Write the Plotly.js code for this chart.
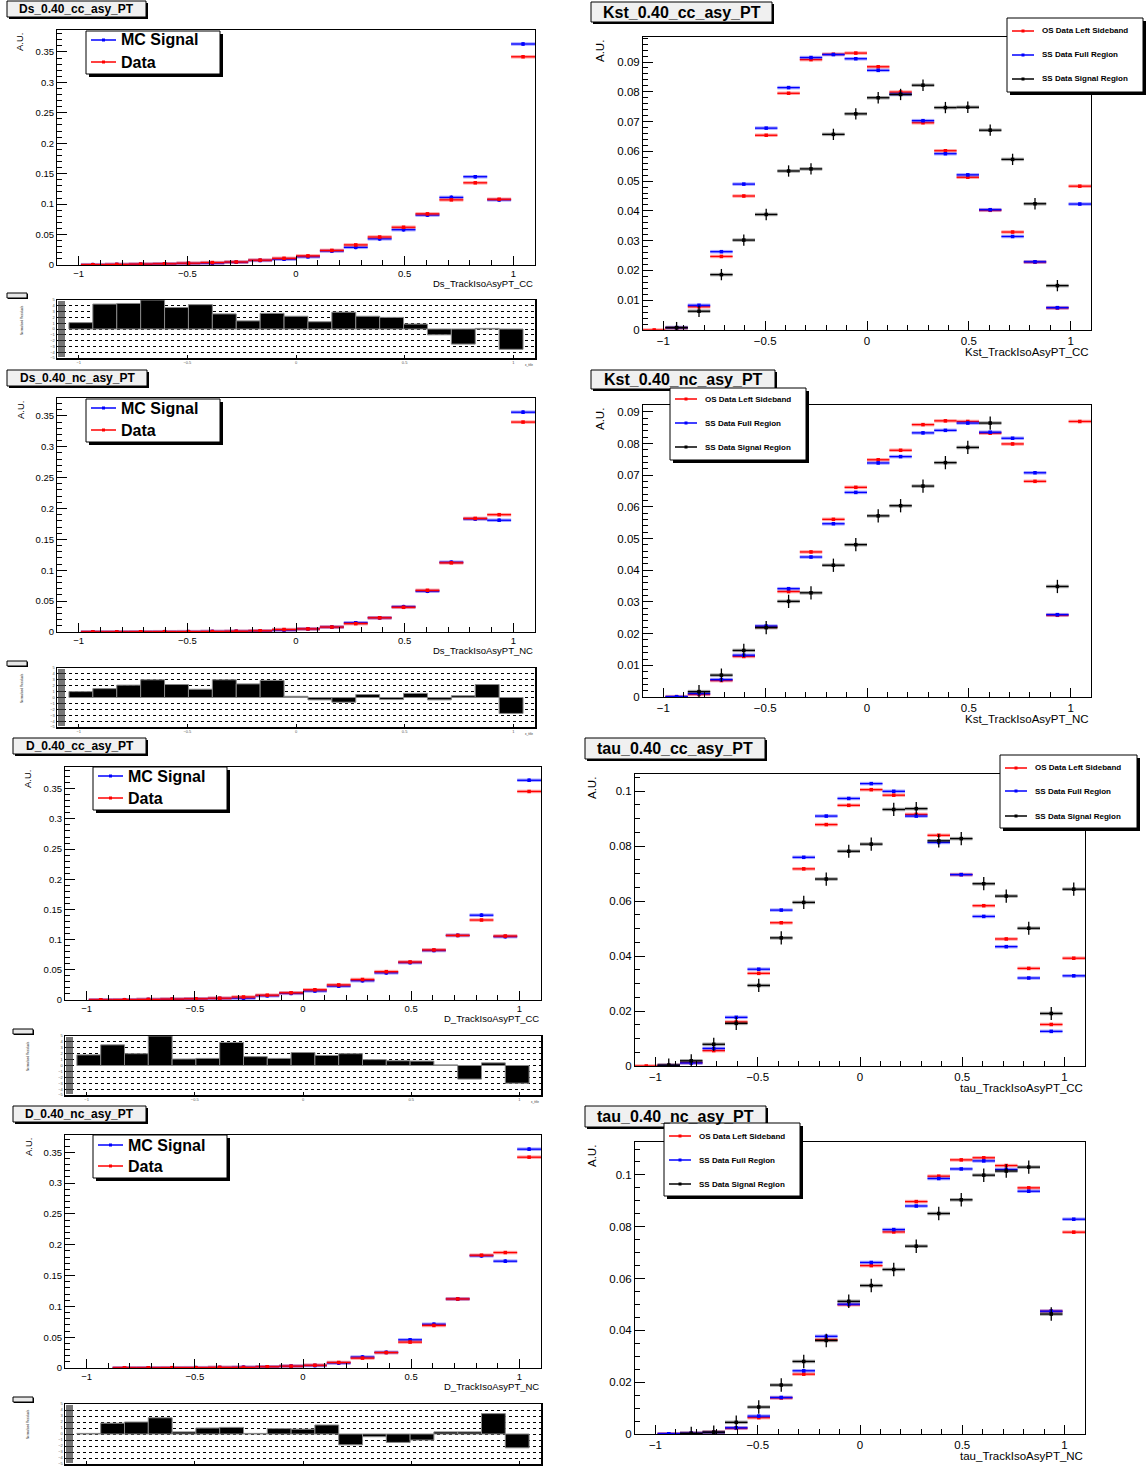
<!DOCTYPE html>
<html><head><meta charset="utf-8">
<script src="https://cdn.plot.ly/plotly-3.0.1.min.js"></script>
<style>html,body{margin:0;padding:0;background:#fff}#c{width:1147px;height:1468px}</style>
</head><body><div id="c"></div>
<script>
// ---------- DATA ----------
const binCenters = [-1.045,-0.935,-0.825,-0.715,-0.605,-0.495,-0.385,-0.275,-0.165,-0.055,0.055,0.165,0.275,0.385,0.495,0.605,0.715,0.825,0.935,1.045];
const ratioCenters = [-0.99,-0.88,-0.77,-0.66,-0.55,-0.44,-0.33,-0.22,-0.11,0,0.11,0.22,0.33,0.44,0.55,0.66,0.77,0.88,0.99];

const dsCC_mc   = [null,0.0005,0.0008,0.0012,0.0018,0.0025,0.003,0.0045,0.0075,0.0095,0.0135,0.023,0.029,0.043,0.058,0.082,0.111,0.145,0.107,0.363];
const dsCC_data = [null,0.0005,0.001,0.0015,0.002,0.003,0.004,0.005,0.008,0.011,0.015,0.024,0.033,0.046,0.062,0.084,0.107,0.135,0.108,0.342];
const dsCC_ratio = [1.1,4.3,4.4,5.0,3.7,4.2,2.6,1.4,2.7,2.2,1.25,2.9,2.2,2.0,0.85,-1.0,-2.6,0.1,-3.5];

const dsNC_mc   = [null,0.0002,0.0002,0.0003,0.0004,0.0005,0.0008,0.001,0.0015,0.003,0.005,0.008,0.015,0.023,0.041,0.066,0.113,0.183,0.181,0.356];
const dsNC_data = [null,0.0003,0.0003,0.0004,0.0005,0.0006,0.0008,0.0012,0.002,0.004,0.005,0.008,0.0135,0.023,0.040,0.0675,0.112,0.184,0.190,0.340];
const dsNC_ratio = [1.0,1.5,2.1,3.0,2.2,1.4,3.0,2.3,2.9,0.2,-0.4,-0.8,0.5,-0.35,0.7,-0.4,0.3,2.2,-2.7];

const dCC_mc   = [null,0.0003,0.0004,0.0008,0.0012,0.0018,0.0025,0.003,0.007,0.011,0.015,0.023,0.032,0.045,0.062,0.082,0.107,0.1405,0.105,0.364];
const dCC_data = [null,0.0003,0.0005,0.001,0.0015,0.002,0.003,0.005,0.008,0.012,0.017,0.025,0.034,0.047,0.063,0.083,0.107,0.1325,0.106,0.3455];
const dCC_ratio = [1.8,3.5,2.0,5.0,1.1,1.2,3.9,1.5,1.2,2.2,1.7,2.0,1.0,0.8,0.75,0.1,-2.3,0.45,-3.0];

const dNC_mc   = [null,null,0.0002,0.0003,0.0004,0.0005,0.0008,0.0012,0.002,0.003,0.004,0.008,0.0178,0.0253,0.0457,0.071,0.112,0.182,0.1733,0.355];
const dNC_data = [null,null,0.0003,0.0003,0.0005,0.0005,0.001,0.001,0.002,0.003,0.0045,0.009,0.016,0.025,0.042,0.069,0.112,0.183,0.1873,0.342];
const dNC_ratio = [0.1,1.8,2.0,2.7,0.35,1.0,1.1,0.1,0.9,0.8,1.5,-1.8,-0.45,-1.4,-1.0,0.35,0.35,3.4,-2.3];

const kstCC_os     = [0,0.0007,0.0078,0.0247,0.045,0.0654,0.0795,0.0908,0.0926,0.093,0.0884,0.0799,0.0696,0.0602,0.0513,0.0402,0.0329,0.0228,0.0074,0.0483];
const kstCC_ssFull = [null,0.0008,0.0083,0.0263,0.049,0.0678,0.0814,0.0915,0.0925,0.0911,0.0872,0.0792,0.0703,0.0592,0.0521,0.0404,0.0314,0.0229,0.0075,0.0423];
const kstCC_ssSig  = [null,0.0008,0.0063,0.0186,0.0302,0.0388,0.0534,0.0541,0.0657,0.0726,0.078,0.0791,0.0822,0.0747,0.0748,0.0671,0.0573,0.0424,0.0149,null];

const kstNC_os     = [null,0.0001,0.0008,0.0052,0.0128,0.0221,0.0333,0.0458,0.0561,0.0662,0.0749,0.0779,0.086,0.0872,0.087,0.0833,0.0799,0.0681,0.0258,0.087];
const kstNC_ssFull = [null,0.0001,0.0011,0.0055,0.0132,0.0224,0.0342,0.0442,0.0547,0.0646,0.0739,0.0759,0.0834,0.0842,0.0865,0.0836,0.0817,0.0708,0.026,null];
const kstNC_ssSig  = [null,null,0.0017,0.0069,0.0147,0.0219,0.0302,0.0329,0.0416,0.0481,0.0572,0.0604,0.0666,0.074,0.0788,0.0865,null,null,0.0349,null];

const tauCC_os     = [0,0.0002,0.0012,0.0056,0.016,0.0337,0.0521,0.0717,0.0878,0.0948,0.1005,0.0985,0.0915,0.0839,0.0696,0.0583,0.0462,0.0355,0.0151,0.0392];
const tauCC_ssFull = [null,0.0002,0.0011,0.0064,0.0177,0.0352,0.0567,0.0759,0.0909,0.0973,0.1027,0.0999,0.0909,0.0813,0.0696,0.0544,0.0434,0.032,0.0126,0.0328];
const tauCC_ssSig  = [null,0.0003,0.0019,0.0079,0.0155,0.0293,0.0466,0.0595,0.068,0.0781,0.0807,0.0933,0.0936,0.0819,0.0827,0.0663,0.0618,0.0501,0.0191,0.0643];

const tauNC_os     = [null,0.0001,0.0003,0.0007,0.0022,0.0063,0.0139,0.0231,0.0364,0.0499,0.065,0.078,0.0897,0.0995,0.1058,0.1066,0.1036,0.095,0.0474,0.0779];
const tauNC_ssFull = [null,0.0001,0.0003,0.0006,0.0024,0.0069,0.0141,0.0244,0.0377,0.0501,0.0662,0.0789,0.088,0.0986,0.1023,0.1054,0.1021,0.0937,0.0474,0.0829];
const tauNC_ssSig  = [null,null,0.0002,0.0007,0.0045,0.0104,0.0189,0.028,0.0361,0.0512,0.0573,0.0635,0.0725,0.0851,0.0904,0.0999,0.1015,0.103,0.0463,null];

const xTickVals = [-1,-0.5,0,0.5,1];

// ---------- LAYOUT HELPERS ----------
const W = 1147, H = 1468;
const X = p => p / W;
const Y = p => 1 - p / H;
const FONT = 'Liberation Sans, Arial, sans-serif';
const RED = '#ff0000', BLUE = '#0000ff', BLACK = '#000000';
const RED_B = 'rgba(255,0,0,0.35)', BLUE_B = 'rgba(0,0,255,0.35)', BLACK_B = 'rgba(0,0,0,0.35)';

const layout = {
  width: W, height: H, margin: {l:0, r:0, t:0, b:0},
  paper_bgcolor: '#ffffff', plot_bgcolor: '#ffffff', showlegend: false,
  shapes: [], annotations: []
};
const traces = [];
const ax = (i, c) => (i === 1 ? c : c + i);

function mainPanel(p) {
  layout[ax(p.id,'xaxis')] = {
    domain: [X(p.x0), X(p.x1)], anchor: ax(p.id,'y'), range: [-1.1, 1.1],
    tickvals: xTickVals, ticks: 'inside', ticklen: 9, tickcolor: '#000', tickwidth: 1,
    minor: {dtick: 0.1, tick0: 0, ticks: 'inside', ticklen: 5, tickcolor: '#000'},
    showline: true, mirror: true, linecolor: '#000', linewidth: 1,
    showgrid: false, zeroline: false,
    tickfont: {family: FONT, size: p.font, color: '#000'}
  };
  layout[ax(p.id,'yaxis')] = {
    domain: [Y(p.y1), Y(p.y0)], anchor: ax(p.id,'x'), range: [0, p.ymax],
    dtick: p.dtick, tick0: 0, ticks: 'inside', ticklen: 10, tickcolor: '#000',
    minor: {dtick: p.minor, tick0: 0, ticks: 'inside', ticklen: 5, tickcolor: '#000'},
    showline: true, mirror: true, linecolor: '#000', linewidth: 1,
    showgrid: false, zeroline: false,
    tickfont: {family: FONT, size: p.font, color: '#000'}
  };
  // x title
  layout.annotations.push({xref:'paper', yref:'paper', x: X(p.x1), y: Y(p.y1 + p.xtOff),
    xanchor:'right', yanchor:'top', showarrow:false, text: p.xtitle,
    font:{family: FONT, size: p.font, color:'#000'}});
  // y title
  layout.annotations.push({xref:'paper', yref:'paper', x: X(p.ytX), y: Y(p.y0 + 1),
    xanchor:'center', yanchor:'top', showarrow:false, text: 'A.U.', textangle: -90,
    font:{family: FONT, size: p.font, color:'#000'}});
}

function ratioPanel(p) {
  layout[ax(p.id,'xaxis')] = {
    domain: [X(p.x0), X(p.x1)], anchor: ax(p.id,'y'), range: [-1.1, 1.1],
    tickvals: xTickVals, ticks: 'inside', ticklen: 3, tickcolor: '#000',
    showline: true, mirror: true, linecolor: '#000', linewidth: 1.5,
    showgrid: false, zeroline: false, showticklabels: p.xlabels,
    tickfont: {family: FONT, size: 4, color: '#555'}
  };
  layout[ax(p.id,'yaxis')] = {
    domain: [Y(p.y1), Y(p.y0)], anchor: ax(p.id,'x'), range: [-5, 5],
    dtick: 1, ticks: 'inside', ticklen: 8, tickcolor: '#000', tickwidth: 1,
    showline: true, mirror: true, linecolor: '#000', linewidth: 1.5,
    showgrid: true, gridcolor: '#000', gridwidth: 1, griddash: 'dot', zeroline: false,
    tickfont: {family: FONT, size: 4, color: '#555'}
  };
  // dark strip along the left inside edge
  layout.shapes.push({type:'rect', xref:'paper', yref:'paper', x0: X(p.x0+1), x1: X(p.x0+8),
    y0: Y(p.y1-1), y1: Y(p.y0+1), fillcolor:'rgba(60,60,60,0.7)', line:{width:0}, layer:'above'});
  // tiny title box
  layout.shapes.push({type:'rect', xref:'paper', yref:'paper', x0: X(p.bx+1), x1: X(p.bx+21),
    y0: Y(p.y0-1), y1: Y(p.y0-6), fillcolor:'#000', line:{width:0}});
  layout.shapes.push({type:'rect', xref:'paper', yref:'paper', x0: X(p.bx), x1: X(p.bx+20),
    y0: Y(p.y0-2), y1: Y(p.y0-7), fillcolor:'#e8e8e8', line:{color:'#000', width:1}});
  layout.annotations.push({xref:'paper', yref:'paper', x: X(p.bx+15), y: Y(p.y0+3),
    xanchor:'center', yanchor:'top', showarrow:false, text:'Normalised Residuals', textangle:-90,
    font:{family: FONT, size: 3, color:'#333'}});
  if (p.xlabels) {
    layout.annotations.push({xref:'paper', yref:'paper', x: X(p.x1), y: Y(p.y1+3),
      xanchor:'right', yanchor:'top', showarrow:false, text:'x_title',
      font:{family: FONT, size: 3, color:'#333'}});
  }
  traces.push({type:'bar', x: ratioCenters, y: p.vals, width: 0.11,
    xaxis: ax(p.id,'x'), yaxis: ax(p.id,'y'),
    marker:{color:'#000', line:{color:'#888', width:1}}, hoverinfo:'skip'});
}

function hist(id, ys, color, band, ey) {
  const xr = ax(id,'x'), yr = ax(id,'y');
  traces.push({type:'scatter', mode:'markers', x: binCenters, y: ys, xaxis: xr, yaxis: yr,
    marker:{size: 1, color:'rgba(0,0,0,0)'}, hoverinfo:'skip',
    error_x:{type:'constant', value:0.055, width:0, thickness:3.5, color: band}});
  traces.push({type:'scatter', mode:'markers', x: binCenters, y: ys, xaxis: xr, yaxis: yr,
    marker:{size: 3.5, color: color, symbol:'square'},
    error_x:{type:'constant', value:0.055, width:0, thickness:1.3, color: color},
    error_y:{type:'constant', value: ey, width:0, thickness:1.3, color: color}});
}

function titleBox(x0, y0, x1, y1, text, size) {
  layout.shapes.push({type:'rect', xref:'paper', yref:'paper', x0: X(x0+2), x1: X(x1+2),
    y0: Y(y1+2), y1: Y(y0+2), fillcolor:'#000', line:{width:0}});
  layout.shapes.push({type:'rect', xref:'paper', yref:'paper', x0: X(x0), x1: X(x1),
    y0: Y(y1), y1: Y(y0), fillcolor:'#f0f0f0', line:{color:'#000', width:1}});
  layout.annotations.push({xref:'paper', yref:'paper', x: X((x0+x1)/2), y: Y((y0+y1)/2),
    xanchor:'center', yanchor:'middle', showarrow:false, text:'<b>'+text+'</b>',
    font:{family: FONT, size: size, color:'#000'}});
}

function legendBox(x0, y0, x1, y1, entries, ys, lx0, lx1, tx, size) {
  layout.shapes.push({type:'rect', xref:'paper', yref:'paper', x0: X(x0+3), x1: X(x1+3),
    y0: Y(y1+3), y1: Y(y0+3), fillcolor:'#000', line:{width:0}, layer:'above'});
  layout.shapes.push({type:'rect', xref:'paper', yref:'paper', x0: X(x0), x1: X(x1),
    y0: Y(y1), y1: Y(y0), fillcolor:'#fff', line:{color:'#000', width:1}, layer:'above'});
  entries.forEach((e, k) => {
    const yy = ys[k];
    layout.shapes.push({type:'line', xref:'paper', yref:'paper', x0: X(lx0), x1: X(lx1),
      y0: Y(yy), y1: Y(yy), line:{color: e.color, width: 1.5}, layer:'above'});
    const mx = (lx0 + lx1) / 2;
    layout.shapes.push({type:'rect', xref:'paper', yref:'paper', x0: X(mx-1.5), x1: X(mx+1.5),
      y0: Y(yy+1.5), y1: Y(yy-1.5), fillcolor: e.color, line:{width:0}, layer:'above'});
    layout.annotations.push({xref:'paper', yref:'paper', x: X(tx), y: Y(yy),
      xanchor:'left', yanchor:'middle', showarrow:false, text:'<b>'+e.text+'</b>',
      font:{family: FONT, size: size, color:'#000'}});
  });
}

// ---------- LEFT COLUMN ----------
const leftCfg = [
  {id:1, rid:2, x0:57, x1:535, y0:30, y1:265, ymax:0.386, ry0:300, ry1:358, bx:7, xl:true,
   xtitle:'Ds_TrackIsoAsyPT_CC', title:'Ds_0.40_cc_asy_PT', mc:dsCC_mc, data:dsCC_data, ratio:dsCC_ratio,
   tb:[7,1,146,17], lg:[86,31,220,74], lgy:[40,62]},
  {id:3, rid:4, x0:57, x1:535, y0:398, y1:632, ymax:0.379, ry0:668, ry1:727, bx:7, xl:true,
   xtitle:'Ds_TrackIsoAsyPT_NC', title:'Ds_0.40_nc_asy_PT', mc:dsNC_mc, data:dsNC_data, ratio:dsNC_ratio,
   tb:[7,370,147,386], lg:[86,399,220,442], lgy:[408,430]},
  {id:5, rid:6, x0:65, x1:541, y0:767, y1:1000, ymax:0.386, ry0:1036, ry1:1095, bx:13, xl:true,
   xtitle:'D_TrackIsoAsyPT_CC', title:'D_0.40_cc_asy_PT', mc:dCC_mc, data:dCC_data, ratio:dCC_ratio,
   tb:[13,738,146,754], lg:[93,767,227,810], lgy:[776,798]},
  {id:7, rid:8, x0:65, x1:541, y0:1135, y1:1368, ymax:0.378, ry0:1404, ry1:1464, bx:13, xl:false,
   xtitle:'D_TrackIsoAsyPT_NC', title:'D_0.40_nc_asy_PT', mc:dNC_mc, data:dNC_data, ratio:dNC_ratio,
   tb:[13,1106,146,1122], lg:[93,1135,227,1178], lgy:[1145,1166]}
];
leftCfg.forEach(c => {
  mainPanel({id:c.id, x0:c.x0, x1:c.x1, y0:c.y0, y1:c.y1, ymax:c.ymax, dtick:0.05, minor:0.01,
    font:9.5, xtitle:c.xtitle, xtOff:11, ytX:c.x0-37});
  hist(c.id, c.mc, BLUE, BLUE_B, 0.003);
  hist(c.id, c.data, RED, RED_B, 0.0015);
  ratioPanel({id:c.rid, x0:c.x0, x1:c.x1, y0:c.ry0, y1:c.ry1, bx:c.bx, vals:c.ratio, xlabels:c.xl});
  titleBox(c.tb[0], c.tb[1], c.tb[2], c.tb[3], c.title, 12);
  legendBox(c.lg[0], c.lg[1], c.lg[2], c.lg[3],
    [{text:'MC Signal', color:BLUE}, {text:'Data', color:RED}], c.lgy,
    c.lg[0]+5, c.lg[0]+30, c.lg[0]+33, 16);
});

// ---------- RIGHT COLUMN ----------
const rightCfg = [
  {id:9, x0:643, x1:1091, y0:37, y1:330, ymax:0.0984, dtick:0.01, minor:0.002,
   xtitle:'Kst_TrackIsoAsyPT_CC', title:'Kst_0.40_cc_asy_PT', os:kstCC_os, full:kstCC_ssFull, sig:kstCC_ssSig, eb:0.0019,
   tb:[591,2,772,22], lg:[1007,18,1143,92], lgy:[31,55,79]},
  {id:10, x0:643, x1:1091, y0:405, y1:697, ymax:0.0922, dtick:0.01, minor:0.002,
   xtitle:'Kst_TrackIsoAsyPT_NC', title:'Kst_0.40_nc_asy_PT', os:kstNC_os, full:kstNC_ssFull, sig:kstNC_ssSig, eb:0.0021,
   tb:[591,370,775,389], lg:[670,388,806,460], lgy:[399,423,447]},
  {id:11, x0:635, x1:1085, y0:774, y1:1066, ymax:0.1062, dtick:0.02, minor:0.005,
   xtitle:'tau_TrackIsoAsyPT_CC', title:'tau_0.40_cc_asy_PT', os:tauCC_os, full:tauCC_ssFull, sig:tauCC_ssSig, eb:0.0024,
   tb:[585,738,765,759], lg:[1000,755,1137,828], lgy:[768,791,816]},
  {id:12, x0:635, x1:1085, y0:1142, y1:1434, ymax:0.1127, dtick:0.02, minor:0.005,
   xtitle:'tau_TrackIsoAsyPT_NC', title:'tau_0.40_nc_asy_PT', os:tauNC_os, full:tauNC_ssFull, sig:tauNC_ssSig, eb:0.0026,
   tb:[585,1106,766,1127], lg:[664,1123,800,1196], lgy:[1136,1160,1184]}
];
rightCfg.forEach(c => {
  mainPanel({id:c.id, x0:c.x0, x1:c.x1, y0:c.y0, y1:c.y1, ymax:c.ymax, dtick:c.dtick, minor:c.minor,
    font:11.5, xtitle:c.xtitle, xtOff:14, ytX:c.x0-43});
  hist(c.id, c.os, RED, RED_B, 0.0004);
  hist(c.id, c.full, BLUE, BLUE_B, 0.0004);
  hist(c.id, c.sig, BLACK, BLACK_B, c.eb);
  titleBox(c.tb[0], c.tb[1], c.tb[2], c.tb[3], c.title, 16);
  legendBox(c.lg[0], c.lg[1], c.lg[2], c.lg[3],
    [{text:'OS Data Left Sideband', color:RED}, {text:'SS Data Full Region', color:BLUE},
     {text:'SS Data Signal Region', color:BLACK}], c.lgy,
    c.lg[0]+5, c.lg[0]+27, c.lg[0]+33, 8);
});

Plotly.newPlot('c', traces, layout, {staticPlot: true, displayModeBar: false});
</script>
</body></html>
